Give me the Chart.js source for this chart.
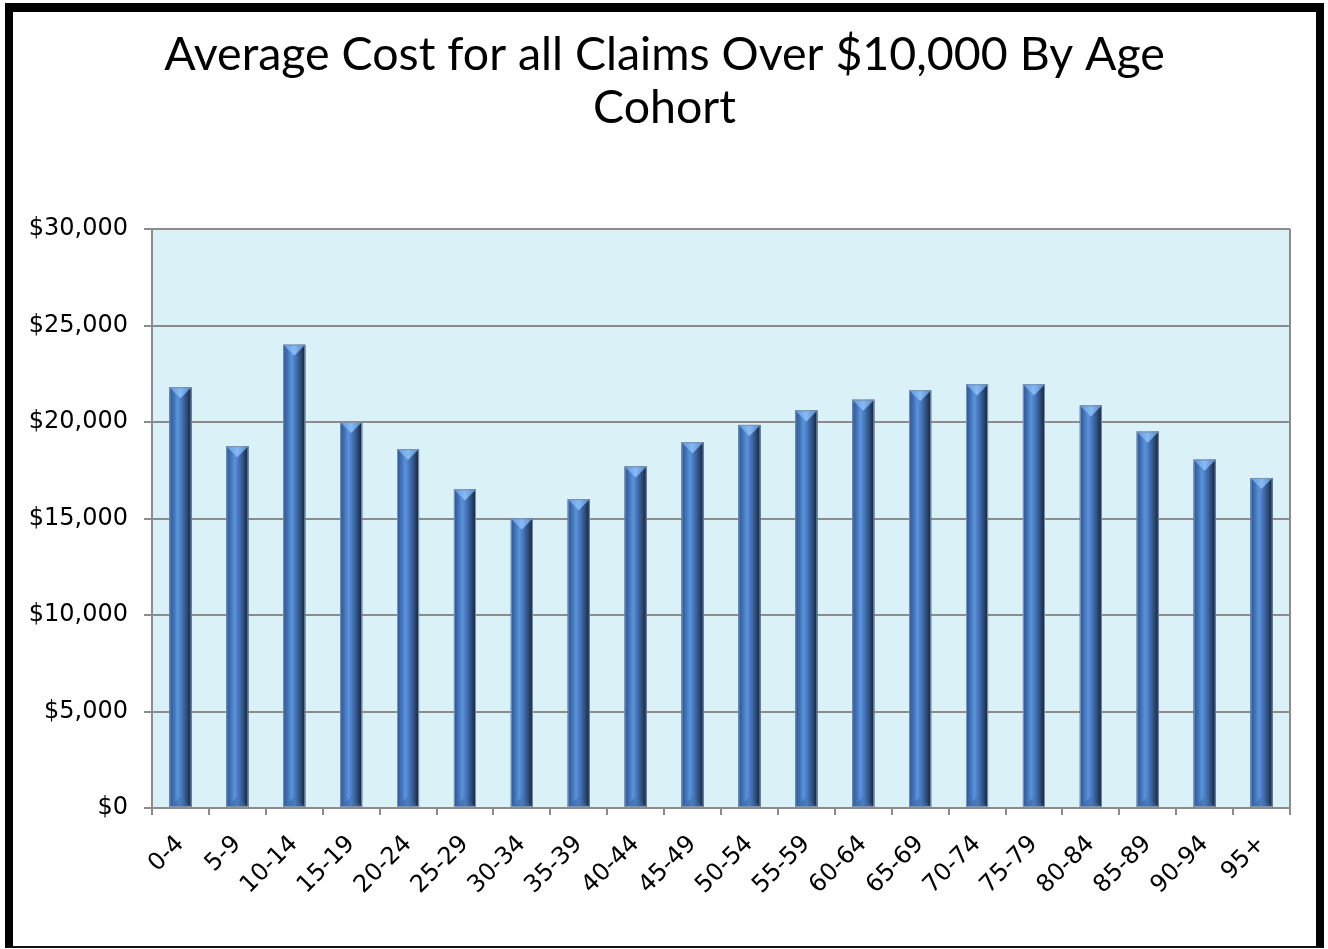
<!DOCTYPE html>
<html>
<head>
<meta charset="utf-8">
<script src="https://cdn.jsdelivr.net/npm/chart.js@4.4.1/dist/chart.umd.min.js"></script>
<style>
  html, body { margin: 0; padding: 0; background: #ffffff; }
  #frame {
    position: absolute; left: 5px; top: 3px;
    width: 1303px; height: 934px;
    border-left: 8px solid #000; border-top: 9px solid #000;
    border-right: 8px solid #000; border-bottom: 2px solid #111;
    background: #fff;
  }
  #wrap { position: relative; width: 1303px; height: 934px; }
</style>
</head>
<body>
<div id="frame"><div id="wrap"><canvas id="c"></canvas></div></div>
<script>
const titleLines = ["Average Cost for all Claims Over $10,000 By Age", "Cohort"];
const categories = ["0-4","5-9","10-14","15-19","20-24","25-29","30-34","35-39","40-44","45-49",
                    "50-54","55-59","60-64","65-69","70-74","75-79","80-84","85-89","90-94","95+"];
const avgCost = [21800, 18750, 24000, 20000, 18600, 16500, 15000, 16000, 17700, 18950,
                 19850, 20600, 21150, 21650, 21950, 21950, 20850, 19500, 18050, 17100];
const yTicks = [0, 5000, 10000, 15000, 20000, 25000, 30000];

const TITLE_FONT = "Lato, 'Open Sans', sans-serif";
const TICK_FONT = "'DejaVu Sans', Verdana, sans-serif";

const titleDraw = {
  id: 'titleDraw',
  afterDraw(chart) {
    const ctx = chart.ctx;
    ctx.save();
    ctx.fillStyle = '#000';
    ctx.font = "46.5px " + TITLE_FONT;
    ctx.textAlign = 'center';
    ctx.textBaseline = 'middle';
    const cx = chart.width / 2;
    ctx.fillText(titleLines[0], cx, 43);
    ctx.fillText(titleLines[1], cx, 96);
    ctx.restore();
  }
};

const plotBg = {
  id: 'plotBg',
  beforeDraw(chart) {
    const {ctx, chartArea: a} = chart;
    ctx.save();
    ctx.fillStyle = '#daf1f7';
    ctx.fillRect(a.left, a.top, a.right - a.left, a.bottom - a.top);
    ctx.restore();
  },
  afterDraw(chart) {
    const {ctx, chartArea: a} = chart;
    ctx.save();
    ctx.strokeStyle = '#8c8c8c';
    ctx.lineWidth = 2;
    ctx.beginPath();
    ctx.moveTo(a.right, a.top);
    ctx.lineTo(a.right, a.bottom);
    ctx.stroke();
    ctx.restore();
  }
};

const bevelBars = {
  id: 'bevelBars',
  afterDatasetsDraw(chart) {
    const ctx = chart.ctx;
    const meta = chart.getDatasetMeta(0);
    meta.data.forEach(bar => {
      const w = bar.width, l = bar.x - w / 2, r = bar.x + w / 2;
      const top = bar.y, bot = bar.base;
      const d = w / 2;
      ctx.save();
      const g = ctx.createLinearGradient(l, 0, r, 0);
      g.addColorStop(0, '#2c558f');
      g.addColorStop(0.18, '#3e6fb4');
      g.addColorStop(0.38, '#5c93da');
      g.addColorStop(0.55, '#4677bd');
      g.addColorStop(0.8, '#2b4a78');
      g.addColorStop(1, '#141f33');
      ctx.fillStyle = g;
      ctx.fillRect(l, top, w, bot - top);
      const gt = ctx.createLinearGradient(l, 0, r, 0);
      gt.addColorStop(0, '#5f97de');
      gt.addColorStop(0.5, '#86baf3');
      gt.addColorStop(1, '#4f86cc');
      ctx.fillStyle = gt;
      ctx.beginPath();
      ctx.moveTo(l, top); ctx.lineTo(r, top); ctx.lineTo(bar.x, top + d); ctx.closePath();
      ctx.fill();
      const gb = ctx.createLinearGradient(l, 0, r, 0);
      gb.addColorStop(0, '#3465a6');
      gb.addColorStop(0.5, '#4a7dc0');
      gb.addColorStop(1, '#253f66');
      ctx.fillStyle = gb;
      ctx.beginPath();
      ctx.moveTo(l, bot); ctx.lineTo(r, bot); ctx.lineTo(bar.x, bot - d * 0.9); ctx.closePath();
      ctx.fill();
      ctx.strokeStyle = '#7f93ad';
      ctx.lineWidth = 1;
      ctx.strokeRect(l + 0.5, top + 0.5, w - 1, bot - top - 1);
      ctx.restore();
    });
  }
};

new Chart(document.getElementById('c'), {
  type: 'bar',
  data: {
    labels: categories,
    datasets: [{
      data: avgCost,
      backgroundColor: '#3e6fb4',
      borderWidth: 0,
      categoryPercentage: 1.0,
      barPercentage: 0.387
    }]
  },
  options: {
    responsive: true,
    maintainAspectRatio: false,
    animation: false,
    layout: { padding: { left: 0, right: 26, top: 217, bottom: 0 } },
    plugins: {
      legend: { display: false },
      tooltip: { enabled: false },
      title: { display: false }
    },
    scales: {
      x: {
        offset: true,
        grid: { display: true, drawOnChartArea: false, drawTicks: true, tickLength: 7, color: '#8c8c8c', lineWidth: 2, offset: true },
        border: { display: true, color: '#8c8c8c', width: 2 },
        ticks: {
          color: '#000', font: { family: TICK_FONT, size: 24 },
          minRotation: 45, maxRotation: 45, padding: 15, autoSkip: false
        },
        afterFit(scale) { scale.height = 138; }
      },
      y: {
        min: 0, max: 30000,
        afterBuildTicks(scale) { scale.ticks = yTicks.map(v => ({ value: v })); },
        grid: { color: '#8c8c8c', lineWidth: 2, tickLength: 8 },
        border: { display: true, color: '#8c8c8c', width: 2 },
        ticks: {
          color: '#000', font: { family: TICK_FONT, size: 24 }, padding: 16,
          callback: v => '$' + Number(v).toLocaleString('en-US')
        },
        afterFit(scale) { scale.width = 139; }
      }
    }
  },
  plugins: [plotBg, bevelBars, titleDraw]
});
</script>
</body>
</html>
